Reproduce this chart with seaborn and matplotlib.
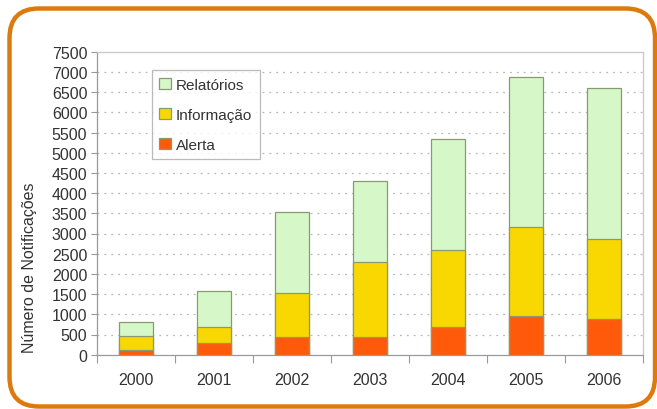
import matplotlib
matplotlib.use("Agg")
import matplotlib.pyplot as plt
from matplotlib.patches import FancyBboxPatch, Patch
import seaborn as sns
import pandas as pd
import numpy as np

years = ["2000", "2001", "2002", "2003", "2004", "2005", "2006"]
alerta = [120, 280, 450, 450, 680, 970, 890]
informacao = [350, 400, 1080, 1850, 1900, 2180, 1980]
relatorios = [340, 900, 2000, 1990, 2760, 3730, 3730]
series_names = ["Relatórios", "Informação", "Alerta"]
yticks = list(range(0, 7501, 500))

sns.set_theme(style="white")
plt.rcParams["font.family"] = ["Liberation Sans", "DejaVu Sans"]
fs = 11.5

c_rel = "#D6F8C8"
c_inf = "#F8D800"
c_ale = "#FF5A0A"
edge = "#8A9A70"
txt = "#333333"

a = np.array(alerta)
i = np.array(informacao)
r = np.array(relatorios)
df = pd.DataFrame({"year": years, "ale": a, "inf": a + i, "tot": a + i + r})

fig = plt.figure(figsize=(6.57, 4.10), dpi=100)
fig.patch.set_facecolor("white")

ax = fig.add_axes([97 / 657, 1 - 355.7 / 410, 546 / 657, 303 / 410])
ax.set_facecolor("none")

w = 0.44
sns.barplot(data=df, x="year", y="tot", color=c_rel, width=w, ax=ax,
            edgecolor=edge, linewidth=0.9, saturation=1, zorder=3)
sns.barplot(data=df, x="year", y="inf", color=c_inf, width=w, ax=ax,
            edgecolor=edge, linewidth=0.9, saturation=1, zorder=3)
sns.barplot(data=df, x="year", y="ale", color=c_ale, width=w, ax=ax,
            edgecolor=edge, linewidth=0.9, saturation=1, zorder=3)

ax.set_ylim(0, 7500)
ax.set_xlim(-0.5, 6.5)
ax.set_yticks(yticks)
ax.set_yticklabels([str(v) for v in yticks], fontsize=fs, color=txt)
ax.set_xticks(range(len(years)))
ax.set_xticklabels(years, fontsize=fs, color=txt)
for v in yticks[1:-1]:
    ax.axhline(v, color="#b8b8b8", linewidth=0.9, linestyle=(0, (1.5, 4)), zorder=1)

ax.set_xticks(np.arange(-0.5, 7, 1), minor=True)
ax.tick_params(axis="x", which="major", length=0, pad=12.5)
ax.tick_params(axis="x", which="minor", length=6, color="#999999", width=0.8, direction="out", bottom=True)
ax.tick_params(axis="y", which="major", length=4, color="#999999", width=0.8, direction="out", pad=3, left=True)

for s in ["left", "bottom"]:
    ax.spines[s].set_color("#999999")
    ax.spines[s].set_linewidth(0.9)
for s in ["top", "right"]:
    ax.spines[s].set_color("#c8c8c8")
    ax.spines[s].set_linewidth(0.9)
    ax.spines[s].set_visible(True)

ax.set_xlabel("")
ax.set_ylabel("Número de Notificações", fontsize=11.5, color=txt)
ax.yaxis.set_label_coords(-0.110, 0.29)

handles = [Patch(facecolor=c_rel, edgecolor=edge, linewidth=0.9),
           Patch(facecolor=c_inf, edgecolor=edge, linewidth=0.9),
           Patch(facecolor=c_ale, edgecolor=edge, linewidth=0.9)]
leg = ax.legend(handles, series_names, loc="upper left", bbox_to_anchor=(0.10, 0.94),
                borderaxespad=0, fontsize=11, frameon=True, fancybox=False,
                edgecolor="#aaaaaa", handlelength=0.75, handleheight=0.75,
                handletextpad=0.35, labelspacing=1.05, borderpad=0.5)
leg.get_frame().set_linewidth(0.9)
leg.get_frame().set_facecolor("white")
for t in leg.get_texts():
    t.set_color(txt)

frame = FancyBboxPatch((9.5 / 657, 2.5 / 410), 645.5 / 657, 398 / 410,
                       boxstyle="round,pad=0,rounding_size=0.045",
                       transform=fig.transFigure, facecolor="none",
                       edgecolor="#DC7A0E", linewidth=3.2, zorder=5,
                       mutation_aspect=657 / 410)
fig.patches.append(frame)

fig.savefig("out.png", dpi=100)
